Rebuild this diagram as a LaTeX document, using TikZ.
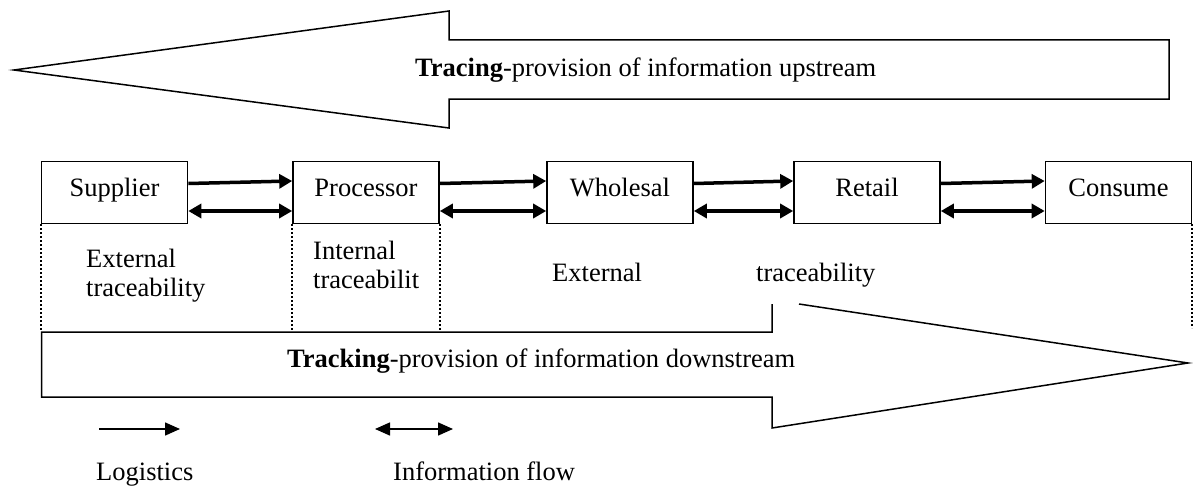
\documentclass[tikz,border=0pt]{standalone}
\usepackage{fontspec}
\setmainfont{Liberation Serif}
\usetikzlibrary{arrows.meta}
\begin{document}
\begin{tikzpicture}[x=1pt,y=-1pt,
  every node/.style={font=\fontsize{26.5}{29}\selectfont, inner sep=0pt},
  stagebox/.style={draw, line width=1.6pt, minimum width=146pt, minimum height=62pt, text height=19pt, text depth=12pt},
  bigarrow/.style={draw, line width=1.5pt, line join=miter},
  logi/.style={line width=3.5pt, -{Triangle[length=13pt,width=14pt]}},
  info/.style={line width=3.5pt, {Triangle[length=13pt,width=14pt]}-{Triangle[length=13pt,width=14pt]}},
  legl/.style={line width=1.5pt, -{Triangle[length=15pt,width=13pt]}},
  legi/.style={line width=1.5pt, {Triangle[length=15pt,width=13pt]}-{Triangle[length=15pt,width=13pt]}},
  sep/.style={line width=1.8pt, dash pattern=on 2pt off 2pt},
  txt/.style={anchor=base west}]
\useasboundingbox (0,0) rectangle (1194,487);

% upstream arrow
\draw[bigarrow] (14,70) -- (449,11) -- (449,40) -- (1169,40) -- (1169,99) -- (449,99) -- (449,128) -- cycle;
\node[txt] (tracing) at (415,77) {\textbf{Tracing}-provision of information upstream};

% stages
\node[stagebox] (sup) at (114.5,192.5) {Supplier};
\node[stagebox] (pro) at (366,192.5) {Processor};
\node[stagebox] (who) at (620,192.5) {Wholesal};
\node[stagebox] (ret) at (867,192.5) {Retail};
\node[stagebox] (con) at (1118.5,192.5) {Consume};

\foreach \a/\b in {sup/pro,pro/who,who/ret,ret/con}{
  \draw[logi] ([yshift=9pt]\a.east) -- ([yshift=11.5pt]\b.west);
  \draw[info] ([yshift=-18.5pt]\a.east) -- ([yshift=-18.5pt]\b.west);
}

% downstream arrow
\coordinate (bl) at (41.5,332);
\draw[bigarrow] (799,304) -- (1188,363) -- (772,428) -- (772,397) -- (41.5,397) -- (bl) -- (772,332) -- (772,304);
\node[txt] (tracking) at (287,367) {\textbf{Tracking}-provision of information downstream};

% dotted separators
\draw[sep] (sup.south west) -- (sup.south west |- bl);
\draw[sep] (pro.south west) -- (pro.south west |- bl);
\draw[sep] (pro.south east) -- (pro.south east |- bl);
\draw[sep] (con.south east) -- ++(0,104);

% traceability labels
\node[txt] (ext1) at (86,267) {External};
\node[txt] (ext2) at (86,296) {traceability};
\node[txt] (int1) at (313,259) {Internal};
\node[txt] (int2) at (313,288) {traceabilit};
\node[txt] (ext3) at (552,281) {External};
\node[txt] (ext4) at (756,281) {traceability};

% legend
\coordinate (la) at (99,429);
\coordinate (lb) at (180,429);
\draw[legl] (la) -- (lb);
\coordinate (ia) at (375,429);
\coordinate (ib) at (453,429);
\draw[legi] (ia) -- (ib);
\node[txt] (leg1) at (96,480) {Logistics};
\node[txt] (leg2) at (393,480) {Information flow};
\end{tikzpicture}
\end{document}
